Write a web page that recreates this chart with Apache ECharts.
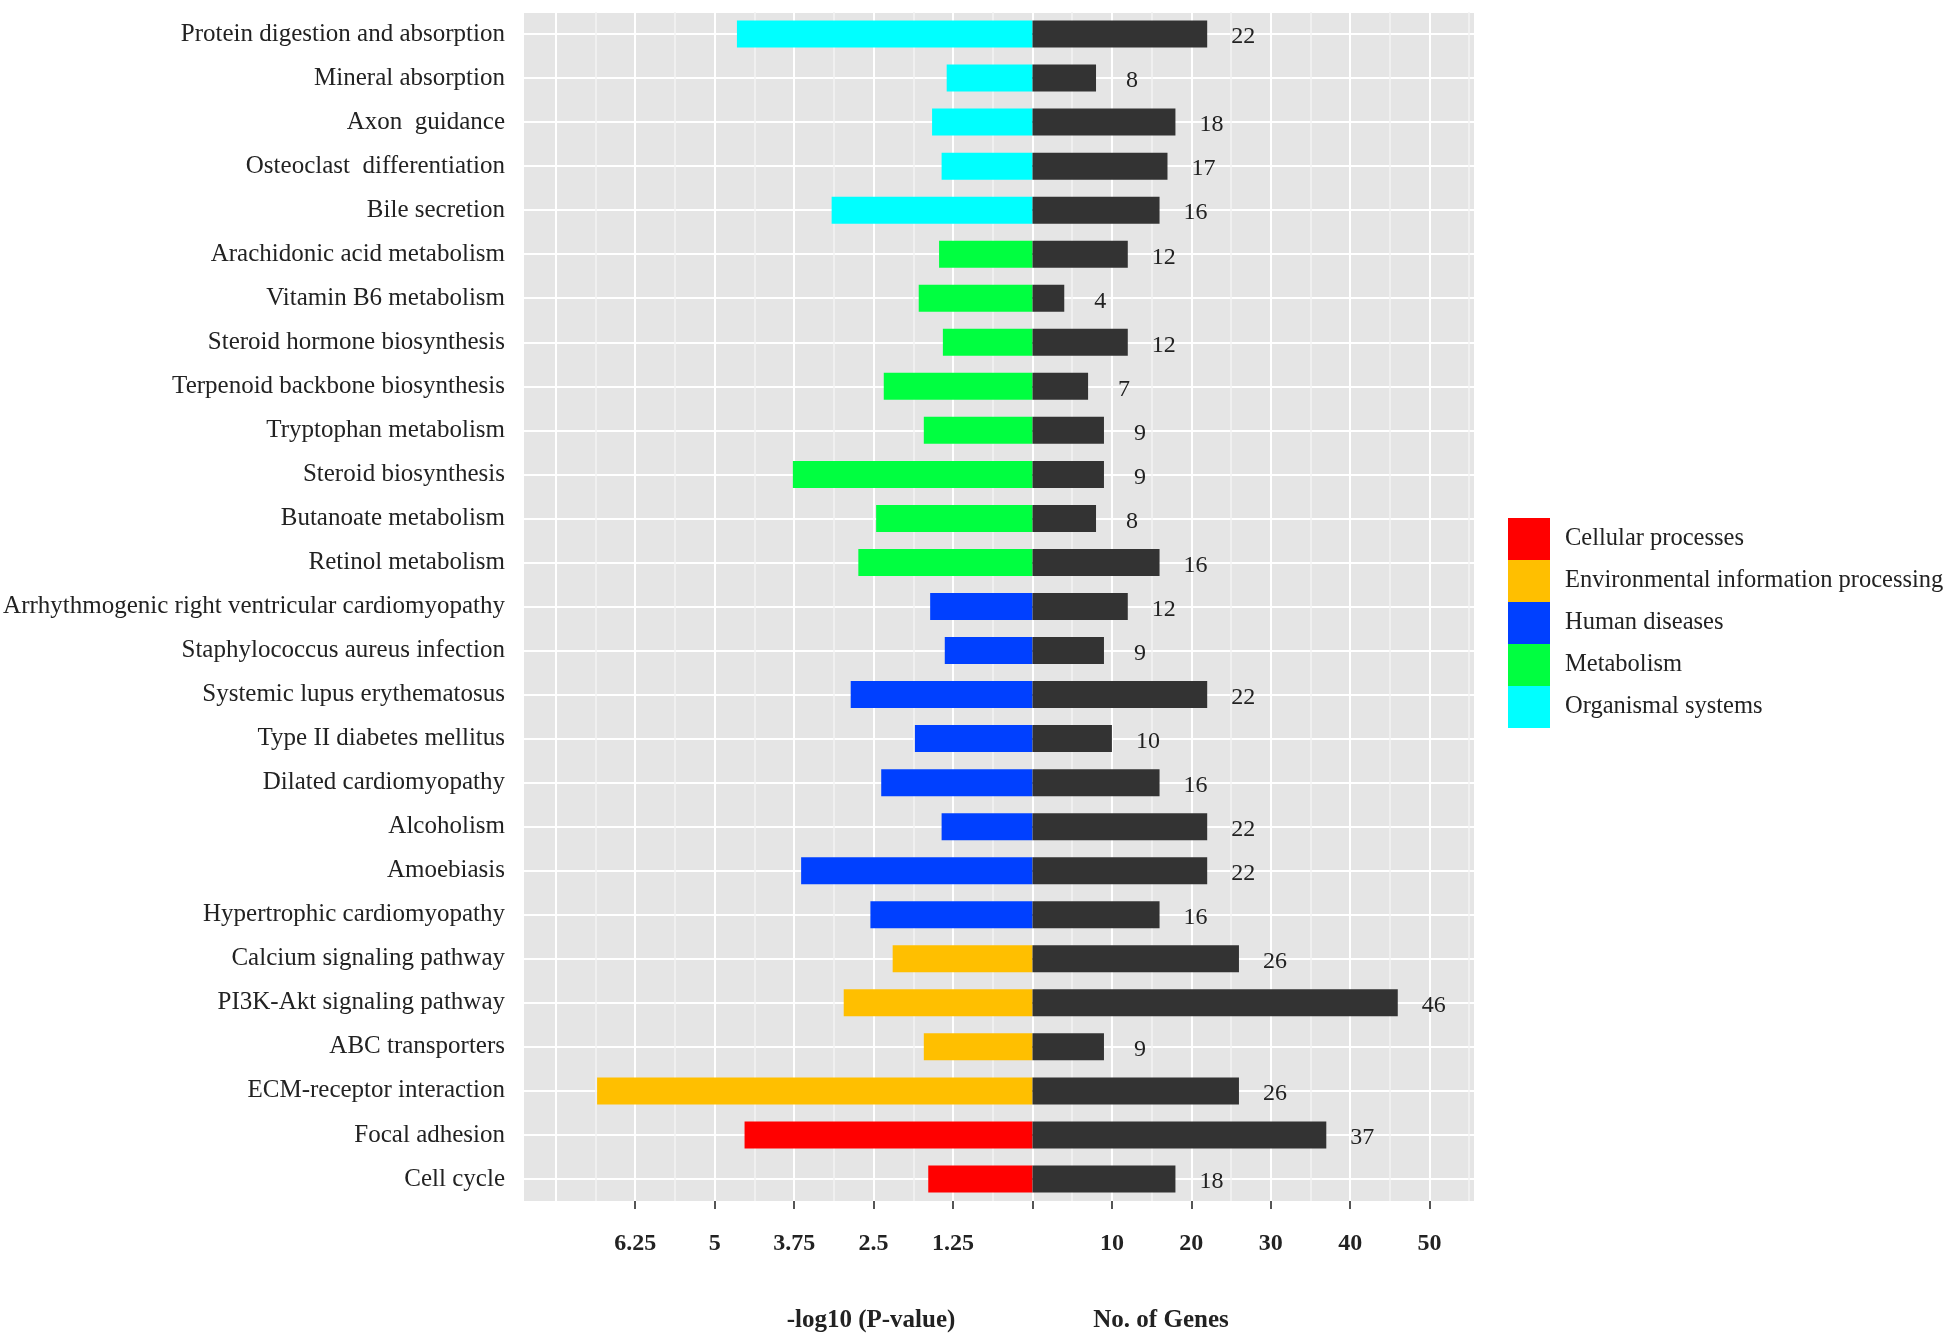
<!DOCTYPE html>
<html><head><meta charset="utf-8">
<script src="https://cdn.jsdelivr.net/npm/echarts@6/dist/echarts.min.js"></script>
<style>html,body{margin:0;padding:0;background:#fff}#c{width:1958px;height:1344px}</style>
</head><body><div id="c"></div>
<script>
const categories = [
  'Protein digestion and absorption','Mineral absorption','Axon  guidance','Osteoclast  differentiation',
  'Bile secretion','Arachidonic acid metabolism','Vitamin B6 metabolism','Steroid hormone biosynthesis',
  'Terpenoid backbone biosynthesis','Tryptophan metabolism','Steroid biosynthesis','Butanoate metabolism',
  'Retinol metabolism','Arrhythmogenic right ventricular cardiomyopathy','Staphylococcus aureus infection',
  'Systemic lupus erythematosus','Type II diabetes mellitus','Dilated cardiomyopathy','Alcoholism',
  'Amoebiasis','Hypertrophic cardiomyopathy','Calcium signaling pathway','PI3K-Akt signaling pathway',
  'ABC transporters','ECM-receptor interaction','Focal adhesion','Cell cycle'
];
const groupNames = ['Cellular processes','Environmental information processing','Human diseases','Metabolism','Organismal systems'];
const groupColors = ['#FF0000','#FFBF00','#0040FF','#00FF40','#00FFFF'];
// group index of each category (index into groupNames)
const categoryGroup = [4,4,4,4,4,3,3,3,3,3,3,3,3,2,2,2,2,2,2,2,2,1,1,1,1,0,0];
const negLogP = [4.65,1.35,1.58,1.43,3.16,1.47,1.79,1.41,2.34,1.71,3.77,2.46,2.74,1.61,1.38,2.86,1.85,2.38,1.43,3.64,2.55,2.20,2.97,1.71,6.85,4.53,1.64];
const geneCounts = [22,8,18,17,16,12,4,12,7,9,9,8,16,12,9,22,10,16,22,22,16,26,46,9,26,37,18];
const leftTicks = [0,1.25,2.5,3.75,5,6.25];
const leftTickLabels = [1.25,2.5,3.75,5,6.25];
const rightTicks = [0,10,20,30,40,50];
const rightTickLabels = [10,20,30,40,50];
const leftTitle = '-log10 (P-value)';
const rightTitle = 'No. of Genes';

const FONT = 'Liberation Serif';
const TXT = '#222222';
const LEFT_MAX = 8.0, RIGHT_MAX = 55.6;
const halfSlots = categories.flatMap((c, i) => [c + '_a', c + '_b']);

const chart = echarts.init(document.getElementById('c'), null, {renderer: 'canvas'});

const gridCommon = {top: 12, bottom: 143, show: true, backgroundColor: '#E5E5E5', borderWidth: 0, containLabel: false};
const splitX = (gi, max, interval) => ({
  gridIndex: gi, type: 'value', min: 0, max: max, interval: interval, inverse: gi === 0,
  position: 'bottom',
  axisLine: {show: false}, axisTick: {show: false}, axisLabel: {show: false},
  splitLine: {show: true, showMaxLine: false, lineStyle: {color: '#FFFFFF', width: 2}},
  minorTick: {show: false, splitNumber: 2},
  minorSplitLine: {show: true, lineStyle: {color: '#F4F4F4', width: 1.5}}
});
const tickX = (gi, max, interval, ticks, labels) => ({
  gridIndex: gi, type: 'value', min: 0, max: max, interval: interval, inverse: gi === 0,
  position: 'bottom',
  axisLine: {show: false},
  axisTick: {show: true, customValues: ticks, length: 8, lineStyle: {color: '#555555', width: 2}},
  axisLabel: {customValues: labels, formatter: v => String(v), margin: 31,
    fontFamily: FONT, fontSize: 24, fontWeight: 'bold', color: TXT},
  splitLine: {show: false}
});
const helperY = (gi) => ({
  gridIndex: gi, type: 'category', data: halfSlots, position: 'left',
  axisLine: {show: false}, axisTick: {show: false}, axisLabel: {show: false},
  splitLine: {show: true, interval: (i) => i % 2 === 1, lineStyle: {color: '#FFFFFF', width: 2}}
});

const series = groupNames.map((g, gi) => ({
  type: 'bar', name: g, xAxisIndex: 0, yAxisIndex: 0, stack: 'p', barWidth: 27,
  itemStyle: {color: groupColors[gi]},
  data: negLogP.map((v, i) => categoryGroup[i] === gi ? v : '-')
}));
series.push({
  type: 'bar', name: rightTitle, xAxisIndex: 2, yAxisIndex: 2, barWidth: 27,
  itemStyle: {color: '#333333'},
  label: {show: true, position: 'right', distance: 36, align: 'center', offset: [0, 3],
    fontFamily: FONT, fontSize: 24, color: TXT},
  data: geneCounts
});

chart.setOption({
  animation: false,
  backgroundColor: '#FFFFFF',
  textStyle: {fontFamily: FONT},
  title: [
    {text: leftTitle, left: 871, top: 1308, textAlign: 'center', padding: 0,
      textStyle: {fontFamily: FONT, fontSize: 25, fontWeight: 'bold', color: TXT}},
    {text: rightTitle, left: 1161, top: 1308, textAlign: 'center', padding: 0,
      textStyle: {fontFamily: FONT, fontSize: 25, fontWeight: 'bold', color: TXT}}
  ],
  legend: {
    data: groupNames, orient: 'vertical', left: 1508, top: 518, padding: 0,
    itemWidth: 42, itemHeight: 42, itemGap: 0, icon: 'rect', selectedMode: false,
    textStyle: {fontFamily: FONT, fontSize: 24.5, color: TXT, padding: [16, 0, 0, 10]}
  },
  grid: [
    Object.assign({left: 524, right: 1958 - 1032.5}, gridCommon),
    Object.assign({left: 1032.5, right: 1958 - 1474}, gridCommon)
  ],
  xAxis: [
    splitX(0, LEFT_MAX, 1.25),
    tickX(0, LEFT_MAX, 1.25, leftTicks, leftTickLabels),
    splitX(1, RIGHT_MAX, 10),
    tickX(1, RIGHT_MAX, 10, rightTicks, rightTickLabels)
  ],
  yAxis: [
    {gridIndex: 0, type: 'category', data: categories, inverse: true, position: 'left',
      axisLine: {show: false},
      axisTick: {show: true, alignWithLabel: true, length: 7, lineStyle: {color: '#444444', width: 2}},
      axisLabel: {fontFamily: FONT, fontSize: 25, color: TXT, margin: 19},
      splitLine: {show: false}},
    helperY(0),
    {gridIndex: 1, type: 'category', data: categories, inverse: true, position: 'left',
      axisLine: {show: false}, axisTick: {show: false}, axisLabel: {show: false}, splitLine: {show: false}},
    helperY(1)
  ],
  series: series
});
</script></body></html>
